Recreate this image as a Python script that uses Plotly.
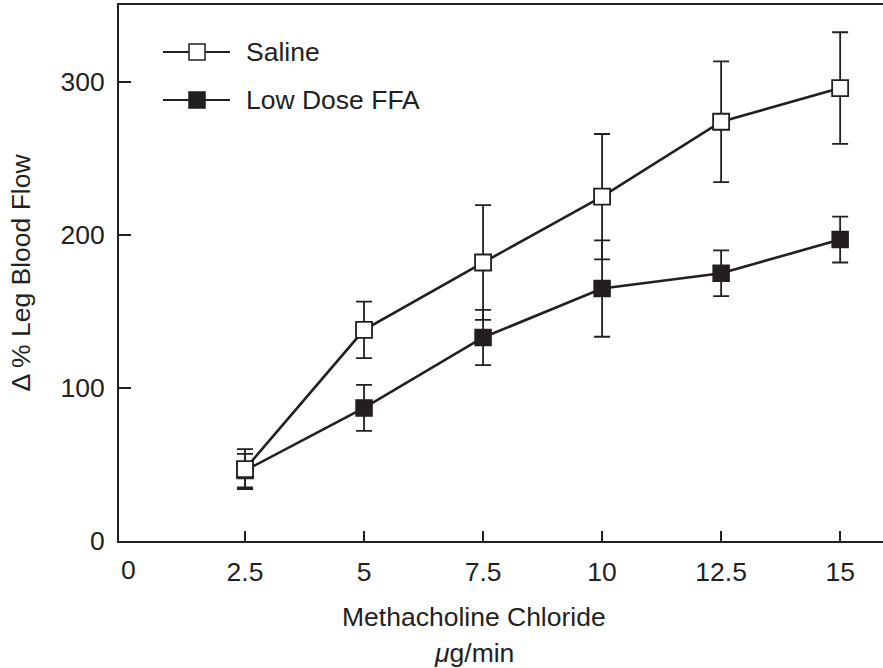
import plotly.graph_objects as go

# Methacholine dose (µg/min)
dose = [2.5, 5, 7.5, 10, 12.5, 15]

# Change in leg blood flow (%), mean and SE
saline = [47, 138, 182, 225, 274, 296]
saline_err = [13, 18.5, 37.5, 41, 39.5, 36.5]
ffa = [46, 87, 133, 165, 175, 197]
ffa_err = [11, 15, 18, 31.5, 15, 15]

x_ticks = [2.5, 5, 7.5, 10, 12.5, 15]
x_tick_text = ["2.5", "5", "7.5", "10", "12.5", "15"]
y_ticks = [0, 100, 200, 300]

INK = "#231f20"
FONT = dict(family="Liberation Sans, Arial, sans-serif", size=26.5, color=INK)

fig = go.Figure()

fig.add_trace(go.Scatter(
    x=dose, y=ffa, name="Low Dose FFA", mode="lines+markers",
    line=dict(color=INK, width=2.6),
    marker=dict(symbol="square", size=16, color=INK, line=dict(color=INK, width=1.5)),
    error_y=dict(type="data", array=ffa_err, color=INK, thickness=1.8, width=8),
    showlegend=False,
))
fig.add_trace(go.Scatter(
    x=dose, y=saline, name="Saline", mode="lines+markers",
    line=dict(color=INK, width=2.6),
    marker=dict(symbol="square", size=16, color="white", line=dict(color=INK, width=1.8)),
    error_y=dict(type="data", array=saline_err, color=INK, thickness=1.8, width=8),
    showlegend=False,
))

# Pixel geometry of the plotting area, used to place the legend and titles
plot_left, plot_top, plot_w, plot_h = 119, 5, 883 - 119, 541 - 5


def px_x(px):
    return (px - plot_left) / plot_w


def px_y(py):
    return 1 - (py - plot_top) / plot_h


# Hand-built legend in the upper-left corner
legend_items = [("Saline", "white", 52), ("Low Dose FFA", INK, 100)]
for label, fill, ypx in legend_items:
    yp = px_y(ypx)
    fig.add_shape(type="line", xref="paper", yref="paper",
                  x0=px_x(163), x1=px_x(230), y0=yp, y1=yp,
                  line=dict(color=INK, width=2))
    fig.add_shape(type="rect", xref="paper", yref="paper",
                  xsizemode="pixel", ysizemode="pixel", xanchor=px_x(197), yanchor=yp,
                  x0=-8, x1=8, y0=-8, y1=8,
                  line=dict(color=INK, width=1.5), fillcolor=fill)
    fig.add_annotation(xref="paper", yref="paper", x=px_x(244), y=yp,
                       text=label, showarrow=False, xanchor="left", yanchor="middle",
                       font=FONT)

# "0" label at the origin of the dose axis (no tick mark there)
fig.add_annotation(x=0.05, xref="x", y=0, yref="paper", yshift=-29, text="0",
                   showarrow=False, yanchor="middle", font=FONT)

# Two-line dose-axis title
for text, ypx in [("Methacholine Chloride", 617), ("<i>μ</i>g/min", 653)]:
    fig.add_annotation(xref="paper", yref="paper", x=px_x(474), y=px_y(ypx),
                       text=text, showarrow=False, xanchor="center", yanchor="middle",
                       font=FONT)

fig.update_layout(
    width=883, height=668,
    margin=dict(l=119, r=0, t=5, b=127),
    paper_bgcolor="white", plot_bgcolor="white",
    font=FONT,
    xaxis=dict(
        range=[-0.147, 15.9], tickvals=x_ticks, ticktext=x_tick_text,
        ticks="inside", ticklen=10, tickwidth=1.5, tickcolor=INK,
        showline=True, linecolor=INK, linewidth=1.8, mirror=True,
        showgrid=False, zeroline=False, ticklabelstandoff=6,
    ),
    yaxis=dict(
        range=[0, 350.3], tickvals=y_ticks,
        ticks="inside", ticklen=12, tickwidth=1.5, tickcolor=INK,
        showline=True, linecolor=INK, linewidth=1.8,
        showgrid=False, zeroline=False, ticklabelstandoff=7,
        title=dict(text="Δ % Leg Blood Flow", standoff=22, font=FONT),
    ),
)

fig.write_html("out.html")
